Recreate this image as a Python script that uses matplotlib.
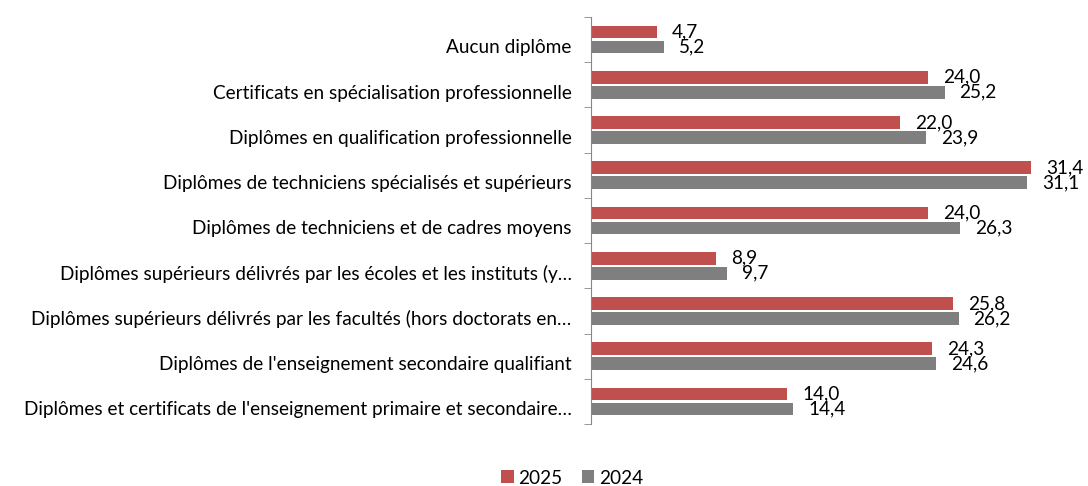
import numpy as np
import matplotlib
matplotlib.use("Agg")
import matplotlib.pyplot as plt
from matplotlib.ticker import FixedLocator

plt.rcParams['font.family'] = ['Lato', 'DejaVu Sans']

categories = [
    "Aucun diplôme",
    "Certificats en spécialisation professionnelle",
    "Diplômes en qualification professionnelle",
    "Diplômes de techniciens spécialisés et supérieurs",
    "Diplômes de techniciens et de cadres moyens",
    "Diplômes supérieurs délivrés par les écoles et les instituts (y…",
    "Diplômes supérieurs délivrés par les facultés (hors doctorats en…",
    "Diplômes de l'enseignement secondaire qualifiant",
    "Diplômes et certificats de l'enseignement primaire et secondaire…",
]
values_2025 = [4.7, 24.0, 22.0, 31.4, 24.0, 8.9, 25.8, 24.3, 14.0]
values_2024 = [5.2, 25.2, 23.9, 31.1, 26.3, 9.7, 26.2, 24.6, 14.4]

red = '#C0504D'
gray = '#7F7F7F'
fs = 13.7

fig = plt.figure(figsize=(10.88, 4.86), dpi=100)
ax = fig.add_axes([591 / 1088, 1 - 424 / 486, 491 / 1088, 407 / 486])

y = np.arange(len(categories))
h = 0.28
b1 = ax.barh(y - 0.165, values_2025, height=h, color=red, label='2025')
b2 = ax.barh(y + 0.165, values_2024, height=h, color=gray, label='2024')

for bars, vals in ((b1, values_2025), (b2, values_2024)):
    for bar, v in zip(bars, vals):
        ax.annotate(f"{v:.1f}".replace('.', ','),
                    (bar.get_width(), bar.get_y() + bar.get_height() / 2),
                    xytext=(15, 0), textcoords='offset pixels',
                    va='center', ha='left', fontsize=fs)

ax.set_xlim(0, 35)
ax.set_ylim(len(categories) - 0.5, -0.5)
# category labels sit level with the lower (2024) bar, as in the source
ax.set_yticks(y + 0.15)
ax.set_yticklabels(categories, fontsize=fs)
ax.yaxis.set_minor_locator(FixedLocator(np.arange(-0.5, len(categories), 1)))
ax.tick_params(axis='y', which='major', length=0, pad=14)
ax.tick_params(axis='y', which='minor', length=5, color='#868686')
ax.set_xticks([])
for s in ('top', 'right', 'bottom'):
    ax.spines[s].set_visible(False)
ax.spines['left'].set_color('#868686')

fig.legend(handles=[b1, b2], loc='center', bbox_to_anchor=(572 / 1088, 1 - 478 / 486),
           ncol=2, frameon=False, fontsize=fs, handlelength=0.65, handleheight=0.65,
           handletextpad=0.25, columnspacing=1.0)

fig.savefig('out.png', dpi=100)
